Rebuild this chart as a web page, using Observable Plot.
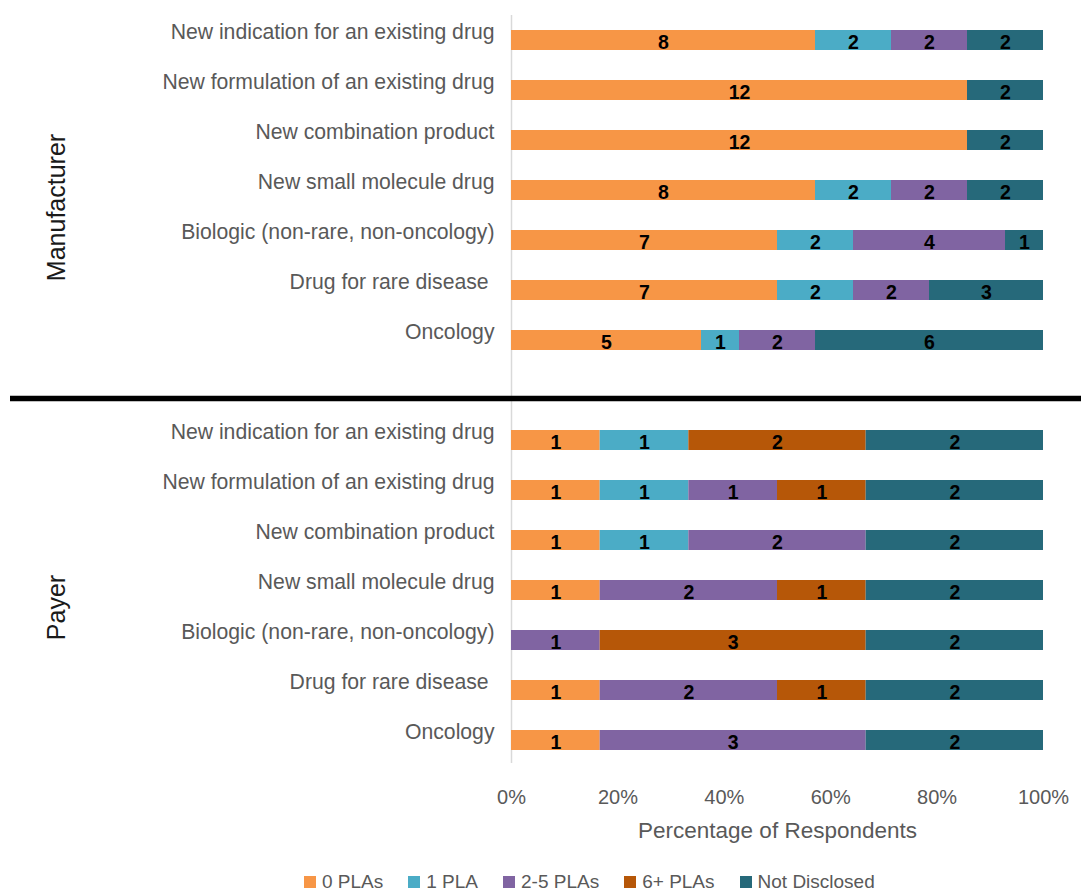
<!DOCTYPE html>
<html>
<head>
<meta charset="utf-8">
<script src="https://cdn.jsdelivr.net/npm/d3@7"></script>
<script src="https://cdn.jsdelivr.net/npm/@observablehq/plot@0.6"></script>
<style>
  html, body { margin: 0; padding: 0; background: #fff; }
  #chart svg { display: block; }
  #legend { margin-top: 20px; padding-left: 304px; }
  .lg-swatches-wrap { display: flex; align-items: center; min-height: 24px !important; }
  .lg-swatch { margin-right: 25px !important; }
  .lg-swatch > svg { margin-right: 6px !important; }
</style>
</head>
<body>
<div id="chart"></div>
<div id="legend"></div>
<script>
const groups = ["Manufacturer", "Payer"];
const categories = [
  "New indication for an existing drug",
  "New formulation of an existing drug",
  "New combination product",
  "New small molecule drug",
  "Biologic (non-rare, non-oncology)",
  "Drug for rare disease\u00a0",
  "Oncology"
];
const segments = ["0 PLAs", "1 PLA", "2-5 PLAs", "6+ PLAs", "Not Disclosed"];
const segmentColors = ["#F79646", "#4BACC6", "#8064A2", "#B65708", "#26697A"];
// counts per category (rows) and segment (columns)
const manufacturerCounts = [
  [8, 2, 2, 0, 2],
  [12, 0, 0, 0, 2],
  [12, 0, 0, 0, 2],
  [8, 2, 2, 0, 2],
  [7, 2, 4, 0, 1],
  [7, 2, 2, 0, 3],
  [5, 1, 2, 0, 6]
];
const payerCounts = [
  [1, 1, 0, 2, 2],
  [1, 1, 1, 1, 2],
  [1, 1, 2, 0, 2],
  [1, 0, 2, 1, 2],
  [0, 0, 1, 3, 2],
  [1, 0, 2, 1, 2],
  [1, 0, 3, 0, 2]
];
const xTicks = [0, 0.2, 0.4, 0.6, 0.8, 1];
const xTitle = "Percentage of Respondents";

const spacer = "|";
const key = (g, c) => g + "|" + c;
const yDomain = [
  ...categories.map(c => key(groups[0], c)),
  spacer,
  ...categories.map(c => key(groups[1], c))
];

const data = [];
[manufacturerCounts, payerCounts].forEach((counts, gi) => {
  counts.forEach((row, ci) => {
    row.forEach((v, si) => {
      data.push({group: groups[gi], category: categories[ci], key: key(groups[gi], categories[ci]), segment: segments[si], value: v});
    });
  });
});

const groupLabels = groups.map(g => ({group: g, key: key(g, categories[3])}));

const font = "'Liberation Sans', Arial, sans-serif";

const chart = Plot.plot({
  width: 1081,
  height: 850,
  marginLeft: 511,
  marginRight: 38,
  marginTop: 15,
  marginBottom: 85,
  style: {fontFamily: font, background: "#fff"},
  x: {domain: [0, 1]},
  y: {domain: yDomain, padding: 0},
  color: {domain: segments, range: segmentColors},
  marks: [
    Plot.ruleX([0], {stroke: "#d9d9d9", strokeWidth: 1.5, insetBottom: 2}),
    Plot.barX(data, Plot.stackX({
      x: "value", y: "key", fill: "segment", z: "segment",
      order: segments, offset: "normalize",
      insetTop: 15, insetBottom: 15
    })),
    Plot.textX(data, Plot.stackX({
      x: "value", y: "key", z: "segment",
      order: segments, offset: "normalize",
      filter: d => d.value > 0,
      text: d => String(d.value),
      fill: "#000", fontWeight: "bold", fontSize: 19.5, dy: 2
    })),
    Plot.ruleY([spacer], {stroke: "#000", strokeWidth: 5.5, insetLeft: -501, insetRight: -38, dy: 8}),
    Plot.axisY({
      tickSize: 0, tickPadding: 17, dy: -8, fontSize: 21.2, color: "#595959",
      tickFormat: d => d.split("|")[1] ?? "", label: null
    }),
    Plot.axisX({
      ticks: xTicks, tickSize: 0, tickPadding: 24, fontSize: 20, color: "#595959",
      tickFormat: d3.format(".0%"),
      label: xTitle, labelAnchor: "center", labelOffset: 72, labelArrow: "none"
    }),
    Plot.text(groupLabels, {
      y: "key", text: "group", frameAnchor: "left", dx: -455, dy: 17,
      rotate: -90, fontSize: 25, fill: "#1a1a1a", textAnchor: "middle"
    })
  ]
});
document.getElementById("chart").appendChild(chart);
// enlarge axis title to match reference
d3.select(chart).selectAll("text").filter(function() { return this.textContent === xTitle; })
  .attr("font-size", 22.5);

const legend = Plot.legend({
  color: {domain: segments, range: segmentColors},
  legend: "swatches",
  swatchSize: 12,
  className: "lg",
  style: {fontFamily: font, fontSize: "19px", color: "#595959"}
});
document.getElementById("legend").appendChild(legend);
</script>
</body>
</html>
